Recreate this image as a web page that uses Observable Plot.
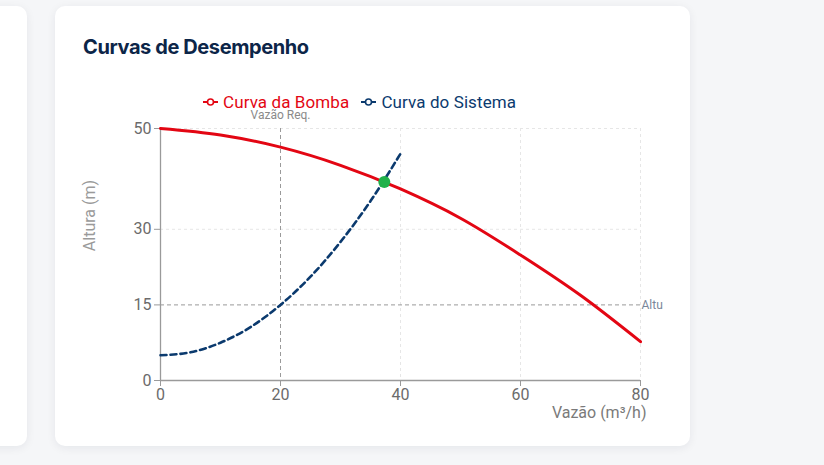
<!DOCTYPE html>
<html>
<head>
<meta charset="utf-8">
<script src="https://cdn.jsdelivr.net/npm/d3@7"></script>
<script src="https://cdn.jsdelivr.net/npm/@observablehq/plot@0.6"></script>
<style>
  html, body { margin: 0; padding: 0; background: #f5f6f8; width: 824px; height: 465px; overflow: hidden; font-family: Roboto, sans-serif; }
  .card { position: absolute; background: #fff; border-radius: 10px; box-shadow: 0 2px 10px rgba(20,30,60,0.07); }
  #left { left: -40px; top: 6px; width: 67px; height: 440px; }
  #main { left: 55px; top: 6px; width: 635px; height: 440px; }
  #title { position: absolute; left: 83px; top: 35px; font-family: Inter, sans-serif; font-weight: 700; font-size: 20px; color: #0c2548; letter-spacing: -0.4px; }
  #legend { position: absolute; left: 203px; top: 91px; display: flex; gap: 12px; font-size: 17px; line-height: 22px; letter-spacing: 0.1px; }
  #legend .item { display: flex; align-items: center; gap: 5px; }
  #chart { position: absolute; left: 70px; top: 100px; }
  #chart svg { overflow: hidden; }
</style>
</head>
<body>
<div class="card" id="left"></div>
<div class="card" id="main"></div>
<div id="title">Curvas de Desempenho</div>
<div id="chart"></div>
<div id="legend"></div>
<script>
const pumpQ = [0, 10, 20, 30, 40, 50, 60, 70, 80];
const pumpH = [50, 48.7, 46.3, 42.7, 38.0, 32.2, 24.9, 16.9, 7.7];
const systemQ = [0, 5, 10, 15, 20, 25, 30, 35, 40];
const systemH = [5, 5.6, 7.5, 10.6, 15, 20.6, 27.5, 35.6, 45];
const operatingPoint = {q: 37.3, h: 39.4};
const reqFlow = 20;
const reqHead = 15;
const xTicks = [0, 20, 40, 60, 80];
const yTicks = [0, 15, 30, 50];
const seriesNames = ["Curva da Bomba", "Curva do Sistema"];
const seriesColors = ["#e30613", "#0b3a6e"];

const pump = pumpQ.map((q, i) => ({q, h: pumpH[i]}));
const system = systemQ.map((q, i) => ({q, h: systemH[i]}));

const chart = Plot.plot({
  width: 593,
  height: 330,
  marginLeft: 90,
  marginRight: 23,
  marginTop: 28,
  marginBottom: 50,
  style: {fontFamily: "Roboto, sans-serif", fontSize: "16px", background: "transparent", overflow: "hidden"},
  x: {domain: [0, 80]},
  y: {domain: [0, 50]},
  marks: [
    Plot.ruleX(xTicks.filter(d => d !== reqFlow), {stroke: "#e6e6e6", strokeDasharray: "3 3"}),
    Plot.ruleY(yTicks.filter(d => d !== reqHead), {stroke: "#e6e6e6", strokeDasharray: "3 3"}),
    Plot.ruleX([reqFlow], {stroke: "#9a9a9a", strokeDasharray: "4 3"}),
    Plot.ruleY([reqHead], {stroke: "#9a9a9a", strokeDasharray: "4 3"}),
    Plot.text(["Vazão Req."], {x: [reqFlow], frameAnchor: "top", dy: -18, fontSize: 12, fill: "#8a8a8a"}),
    Plot.text(["Altura Req."], {y: [reqHead], frameAnchor: "right", dx: 1, textAnchor: "start", fontSize: 12, fill: "#7a869a"}),
    Plot.ruleX([0], {stroke: "#9a9a9a", strokeWidth: 1.3}),
    Plot.ruleY([0], {stroke: "#9a9a9a", strokeWidth: 1.3}),
    Plot.axisX({ticks: xTicks, tickSize: 6, tickPadding: 2, label: null, stroke: "#9a9a9a", fill: "#6b6b6b", fontSize: 16}),
    Plot.axisY({ticks: yTicks, tickSize: 6, tickPadding: 3, label: null, stroke: "#9a9a9a", fill: "#6b6b6b", fontSize: 16}),
    Plot.text(["Vazão (m³/h)"], {frameAnchor: "bottom-right", dx: 6, dy: 37, textAnchor: "end", fill: "#7a7a7a", fontSize: 16}),
    Plot.text(["Altura (m)"], {frameAnchor: "left", rotate: -90, dx: -71, dy: -39, textAnchor: "middle", fill: "#9a9a9a", fontSize: 16}),
    Plot.line(system, {x: "q", y: "h", stroke: seriesColors[1], strokeWidth: 2.6, strokeDasharray: "6 4", curve: "monotone-x"}),
    Plot.line(pump, {x: "q", y: "h", stroke: seriesColors[0], strokeWidth: 3, curve: "monotone-x"}),
    Plot.dot([operatingPoint], {x: "q", y: "h", r: 6, fill: "#20b14a", stroke: "none"})
  ]
});
document.getElementById("chart").appendChild(chart);

const legend = document.getElementById("legend");
seriesNames.forEach((name, i) => {
  const item = document.createElement("div");
  item.className = "item";
  item.style.color = seriesColors[i];
  item.innerHTML = `<svg width="15" height="10"><line x1="0" y1="5" x2="15" y2="5" stroke="${seriesColors[i]}" stroke-width="2"/><circle cx="7.5" cy="5" r="3" fill="#fff" stroke="${seriesColors[i]}" stroke-width="1.6"/></svg><span>${name}</span>`;
  legend.appendChild(item);
});
</script>
</body>
</html>
